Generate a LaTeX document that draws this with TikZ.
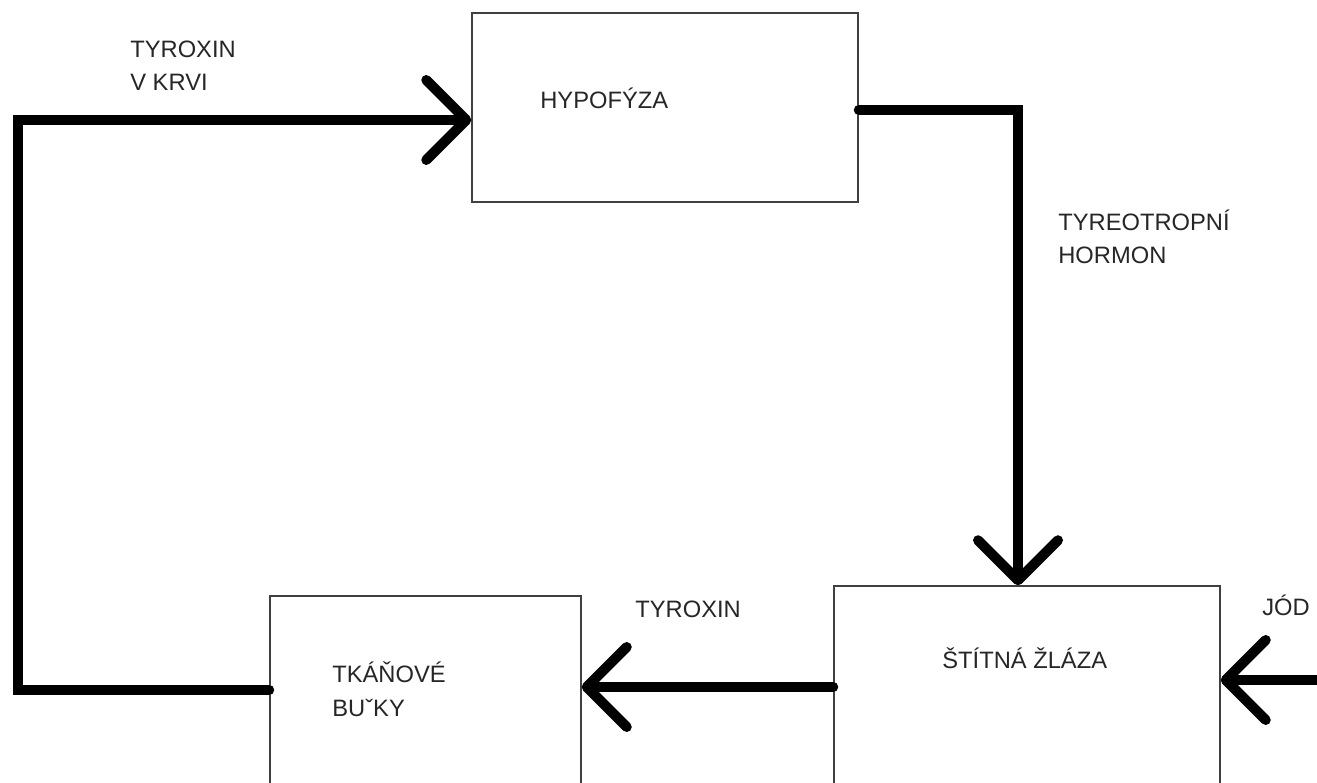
\documentclass[tikz,border=0pt]{standalone}
\usepackage{fontspec}
\setmainfont{Liberation Sans}
\usetikzlibrary{arrows.meta}

\definecolor{boxgray}{HTML}{404040}
\definecolor{txtgray}{HTML}{262626}

\tikzset{
  box/.style={draw=boxgray, line width=0.9pt, inner sep=0pt},
  flow/.style={line width=0.2cm, line cap=round, -{Straight Barb[length=0.8cm,width=1.6cm,round]}},
  lbl/.style={anchor=base west, inner sep=0pt, align=left, text=txtgray,
    font=\fontsize{13.5}{19}\selectfont}
}

\begin{document}
\begin{tikzpicture}[x=0.02cm,y=-0.02cm]

  \useasboundingbox (0,0) rectangle (1317,783);
  \clip (0,0) rectangle (1317,783);

  % boxes
  \node[box, minimum width=7.72cm, minimum height=3.78cm] (hyp) at (665,107.5) {};
  \node[box, minimum width=7.72cm, minimum height=4.28cm] (szl) at (1027,693) {};
  \node[box, minimum width=6.22cm, minimum height=4.08cm] (tk) at (425.5,698) {};

  % texts (base = last line)
  \node[lbl] (hyptxt) at (540,109) {HYPOFÝZA};
  \node[lbl] (szltxt) at (942,668) {ŠTÍTNÁ ŽLÁZA};
  \node[lbl] (tktxt) at (332,716) {TKÁŇOVÉ\\BUˇKY};
  \node[lbl] (krvtxt) at (130,91) {TYROXIN\\V KRVI};
  \node[lbl] (tshtxt) at (1058,264) {TYREOTROPNÍ\\HORMON};
  \node[lbl] (tyrtxt) at (635,617) {TYROXIN};
  \node[lbl] (jodtxt) at (1262,615) {JÓD};

  % connectors
  \coordinate (fb) at (18,690);
  \draw[flow] (tk.west |- fb) -- (fb) |- ([yshift=-0.25cm]hyp.west);

  \coordinate (tsh) at ([yshift=-0.05cm]hyp.east);
  \draw[flow] (tsh) -| ([xshift=-0.18cm]szl.north);

  \coordinate (tyr) at ([yshift=0.12cm]szl.west);
  \draw[flow] (tyr) -- (tyr -| tk.east);

  \coordinate (jod) at (1340,680);
  \draw[flow] (jod) -- (jod -| szl.east);

\end{tikzpicture}
\end{document}
